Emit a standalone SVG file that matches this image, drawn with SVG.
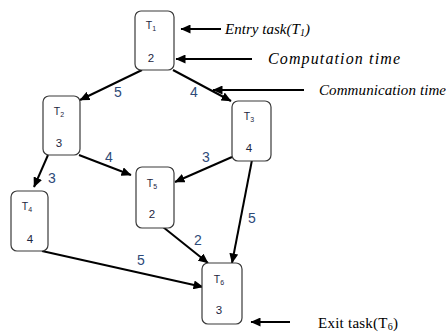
<svg xmlns="http://www.w3.org/2000/svg" width="446" height="336" viewBox="0 0 446 336">
  <style>
    .box { fill: #ffffff; stroke: #3a3a3a; stroke-width: 1.2; }
    .tname { font-family: "Liberation Sans", Arial, sans-serif; font-size: 10.5px; fill: #1c2540; text-anchor: middle; }
    .cost { font-family: "Liberation Sans", Arial, sans-serif; font-size: 11.5px; fill: #1c2540; text-anchor: middle; }
    .sub { font-size: 7px; }
    .edge { stroke: #000000; stroke-width: 2; fill: none; marker-end: url(#arrow); }
    .elabel { font-family: "Liberation Sans", Arial, sans-serif; font-size: 14px; fill: #2e4a78; text-anchor: middle; }
    .note { font-family: "Liberation Serif", "Times New Roman", serif; font-size: 15px; fill: #000000; }
    .it { font-style: italic; }
    .nsub { font-size: 10px; }
  </style>
  <defs>
    <marker id="arrow" markerUnits="userSpaceOnUse" markerWidth="11" markerHeight="9" refX="9.5" refY="4.5" orient="auto">
      <path d="M0,0 L10,4.5 L0,9 z" fill="#000000"/>
    </marker>
  </defs>

  <rect width="446" height="336" fill="#ffffff"/>

  <!-- task-graph edges with communication costs -->
  <g id="connectors">
    <line class="edge" x1="142" y1="70" x2="80" y2="100"/>
    <line class="edge" x1="173" y1="70" x2="231" y2="101"/>
    <line class="edge" x1="48" y1="155" x2="34" y2="187"/>
    <line class="edge" x1="79" y1="155" x2="131" y2="175"/>
    <line class="edge" x1="232" y1="157" x2="175" y2="182"/>
    <line class="edge" x1="252" y1="160" x2="232" y2="263"/>
    <line class="edge" x1="163" y1="227" x2="208" y2="263"/>
    <line class="edge" x1="42" y1="251" x2="203" y2="287"/>

    <text class="elabel" x="118" y="97">5</text>
    <text class="elabel" x="194" y="97">4</text>
    <text class="elabel" x="52" y="183">3</text>
    <text class="elabel" x="109" y="162">4</text>
    <text class="elabel" x="206" y="162">3</text>
    <text class="elabel" x="252" y="223">5</text>
    <text class="elabel" x="198" y="245">2</text>
    <text class="elabel" x="141" y="265">5</text>
  </g>

  <!-- task nodes: name on top, computation cost below -->
  <g id="T1">
    <rect class="box" x="135" y="11" width="39" height="59" rx="6"/>
    <text class="tname" x="151" y="29">T<tspan class="sub" dy="2">1</tspan></text>
    <text class="cost" x="151" y="62">2</text>
  </g>
  <g id="T2">
    <rect class="box" x="43" y="96" width="37" height="59" rx="6"/>
    <text class="tname" x="59" y="115">T<tspan class="sub" dy="2">2</tspan></text>
    <text class="cost" x="59" y="147">3</text>
  </g>
  <g id="T3">
    <rect class="box" x="232" y="101" width="39" height="60" rx="6"/>
    <text class="tname" x="249" y="120">T<tspan class="sub" dy="2">3</tspan></text>
    <text class="cost" x="249" y="152">4</text>
  </g>
  <g id="T4">
    <rect class="box" x="11" y="191" width="37" height="60" rx="6"/>
    <text class="tname" x="27" y="210">T<tspan class="sub" dy="2">4</tspan></text>
    <text class="cost" x="30" y="243">4</text>
  </g>
  <g id="T5">
    <rect class="box" x="136" y="167" width="38" height="61" rx="6"/>
    <text class="tname" x="152" y="187">T<tspan class="sub" dy="2">5</tspan></text>
    <text class="cost" x="152" y="218">2</text>
  </g>
  <g id="T6">
    <rect class="box" x="202" y="263" width="40" height="61" rx="6"/>
    <text class="tname" x="219" y="283">T<tspan class="sub" dy="2">6</tspan></text>
    <text class="cost" x="219" y="314">3</text>
  </g>

  <!-- explanatory callouts -->
  <g id="callouts">
    <line class="edge" x1="221" y1="29" x2="181" y2="29"/>
    <text class="note it" x="225" y="34" textLength="85" lengthAdjust="spacing">Entry task(T<tspan class="nsub" dy="2">1</tspan><tspan dy="-2">)</tspan></text>

    <line class="edge" x1="252" y1="59" x2="176" y2="59"/>
    <text class="note it" x="268" y="64" style="font-size:16px" textLength="132" lengthAdjust="spacing">Computation time</text>

    <line class="edge" x1="304" y1="90" x2="213" y2="90"/>
    <text class="note it" x="319" y="95" textLength="127" lengthAdjust="spacing">Communication time</text>

    <line class="edge" x1="290" y1="322" x2="251" y2="322"/>
    <text class="note" x="318" y="328" textLength="80" lengthAdjust="spacing">Exit task(T<tspan class="nsub" dy="2">6</tspan><tspan dy="-2">)</tspan></text>
  </g>
</svg>
